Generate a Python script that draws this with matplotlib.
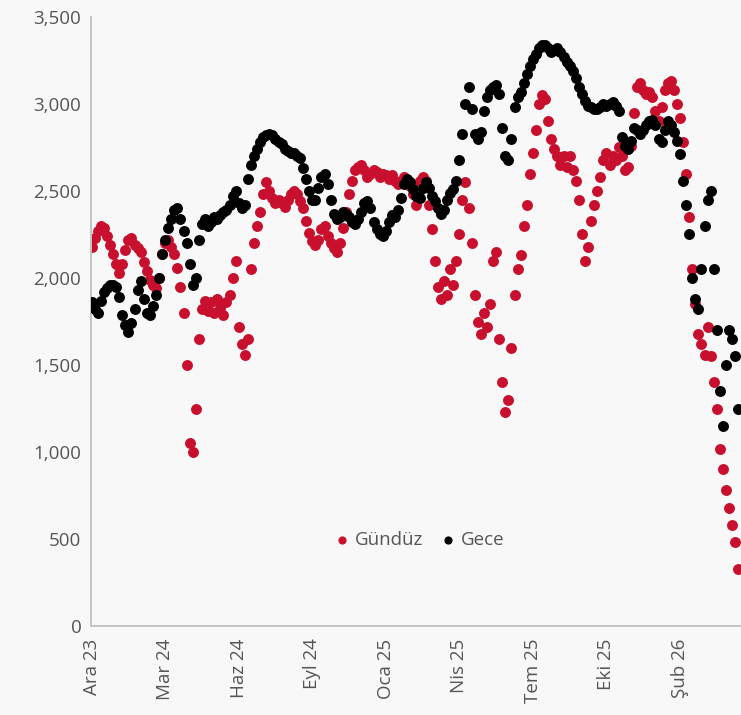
import matplotlib
matplotlib.use('Agg')
import matplotlib.pyplot as plt
from matplotlib.ticker import FuncFormatter
import numpy as np

plt.rcParams['font.family'] = ['Open Sans', 'DejaVu Sans']

# tick labels, one every 24 observations
tick_labels = ['Ara 23', 'Mar 24', 'Haz 24', 'Eyl 24', 'Oca 25',
               'Nis 25', 'Tem 25', 'Eki 25', 'Şub 26']
tick_step = 24

# Gündüz (daytime) series
gunduz = [
    2180, 2230, 2270, 2300, 2290, 2240, 2190, 2140, 2080, 2030,
    2080, 2160, 2220, 2230, 2190, 2170, 2150, 2090, 2040, 1990,
    1960, 1940, 2000, 2140, 2200, 2220, 2180, 2140, 2060, 1950,
    1800, 1500, 1050, 1000, 1250, 1650, 1820, 1870, 1810, 1860,
    1800, 1880, 1830, 1790, 1860, 1900, 2000, 2100, 1720, 1620,
    1560, 1650, 2050, 2200, 2300, 2380, 2480, 2550, 2500, 2460,
    2430, 2450, 2430, 2410, 2450, 2480, 2500, 2480, 2440, 2400,
    2330, 2260, 2210, 2190, 2220, 2280, 2300, 2240, 2200, 2170,
    2150, 2200, 2290, 2380, 2480, 2560, 2620, 2640, 2650, 2620,
    2580, 2600, 2620, 2610, 2580, 2600, 2590, 2570, 2590, 2560,
    2540, 2560, 2580, 2560, 2530, 2480, 2420, 2560, 2580, 2560,
    2420, 2280, 2100, 1950, 1880, 1980, 1900, 2050, 1960, 2100,
    2250, 2450, 2550, 2400, 2200, 1900, 1750, 1680, 1800, 1720,
    1850, 2100, 2150, 1650, 1400, 1230, 1300, 1600, 1900, 2050,
    2130, 2300, 2420, 2600, 2720, 2850, 3000, 3050, 3030, 2900,
    2800, 2740, 2700, 2650, 2700, 2640, 2700, 2620, 2560, 2450,
    2250, 2100, 2180, 2330, 2420, 2500, 2580, 2680, 2720, 2650,
    2700, 2680, 2750, 2700, 2620, 2640, 2760, 2950, 3100, 3120,
    3080, 3060, 3070, 3040, 2960, 2900, 2980, 3080, 3120, 3130,
    3080, 3000, 2920, 2780, 2600, 2350, 2050, 1850, 1680, 1620,
    1560, 1720, 1550, 1400, 1250, 1020, 900, 780, 680, 580,
    480, 330,
]

# Gece (night) series
gece = [
    1860, 1820, 1800, 1870, 1920, 1940, 1960, 1960, 1950, 1890,
    1790, 1730, 1690, 1740, 1820, 1930, 1980, 1880, 1800, 1790,
    1840, 1900, 2000, 2140, 2220, 2290, 2340, 2390, 2400, 2340,
    2270, 2200, 2080, 1960, 2000, 2220, 2310, 2340, 2300, 2320,
    2350, 2340, 2360, 2380, 2390, 2420, 2470, 2500, 2430, 2400,
    2420, 2570, 2650, 2700, 2740, 2780, 2810, 2820, 2830, 2820,
    2800, 2780, 2770, 2740, 2730, 2720, 2720, 2700, 2690, 2630,
    2570, 2500, 2450, 2450, 2520, 2580, 2600, 2540, 2450, 2370,
    2340, 2350, 2380, 2370, 2350, 2320, 2310, 2340, 2380, 2430,
    2440, 2400, 2320, 2280, 2250, 2240, 2270, 2320, 2360, 2350,
    2390, 2460, 2540, 2570, 2550, 2510, 2470, 2460, 2520, 2550,
    2520, 2470, 2440, 2400, 2370, 2390, 2450, 2490, 2510, 2560,
    2680, 2830, 3000, 3100, 2970, 2830, 2800, 2840, 2960, 3040,
    3080, 3100, 3110, 3060, 2860, 2700, 2680, 2800, 2980, 3040,
    3070, 3120, 3170, 3220, 3260, 3290, 3320, 3340, 3340, 3320,
    3300, 3310, 3320, 3300, 3270, 3240, 3220, 3190, 3150, 3100,
    3060, 3020, 2990, 2980, 2970, 2970, 2980, 3000, 2990, 3000,
    3010, 2990, 2960, 2810, 2760, 2740, 2790, 2860, 2850, 2830,
    2850, 2880, 2900, 2910, 2880, 2800, 2780, 2850, 2900, 2880,
    2840, 2790, 2710, 2560, 2420, 2250, 2000, 1880, 1820, 2050,
    2300, 2450, 2500, 2050, 1700, 1350, 1150, 1500, 1700, 1650,
    1550, 1250,
]

red = '#C8102E'
bg = '#F8F8F8'
txt = '#555555'

fig = plt.figure(figsize=(7.41, 7.15), dpi=100)
fig.patch.set_facecolor(bg)
ax = fig.add_axes([91 / 741, 1 - 626 / 715, 1 - 91 / 741, (626 - 17) / 715])
ax.set_facecolor(bg)

idx = np.arange(len(gunduz))
ax.scatter(idx, gunduz, s=62, color=red, linewidths=0, label='Gündüz', zorder=2)
ax.scatter(idx, gece, s=62, color='black', linewidths=0, label='Gece', zorder=3)

ax.set_ylim(0, 3500)
ax.set_yticks(np.arange(0, 3501, 500))
ax.yaxis.set_major_formatter(FuncFormatter(lambda v, p: f'{int(v):,}'))
ax.set_xlim(-0.2, len(gunduz) - 0.1)
ax.set_xticks(np.arange(len(tick_labels)) * tick_step)
ax.set_xticklabels(tick_labels, rotation=90)

ax.tick_params(axis='both', length=0, labelsize=13.5, colors=txt)
ax.tick_params(axis='y', pad=7)
ax.tick_params(axis='x', pad=9)

for s in ['top', 'right']:
    ax.spines[s].set_visible(False)
for s in ['left', 'bottom']:
    ax.spines[s].set_color('#C4C4C4')
    ax.spines[s].set_linewidth(1.4)

leg = ax.legend(loc='center', bbox_to_anchor=(0.505, 0.141), ncol=2, frameon=False,
                fontsize=13.5, handlelength=0.8, handletextpad=0.3,
                columnspacing=0.9, markerscale=0.75)
for t in leg.get_texts():
    t.set_color(txt)

fig.savefig('out.png', dpi=100, facecolor=bg)
